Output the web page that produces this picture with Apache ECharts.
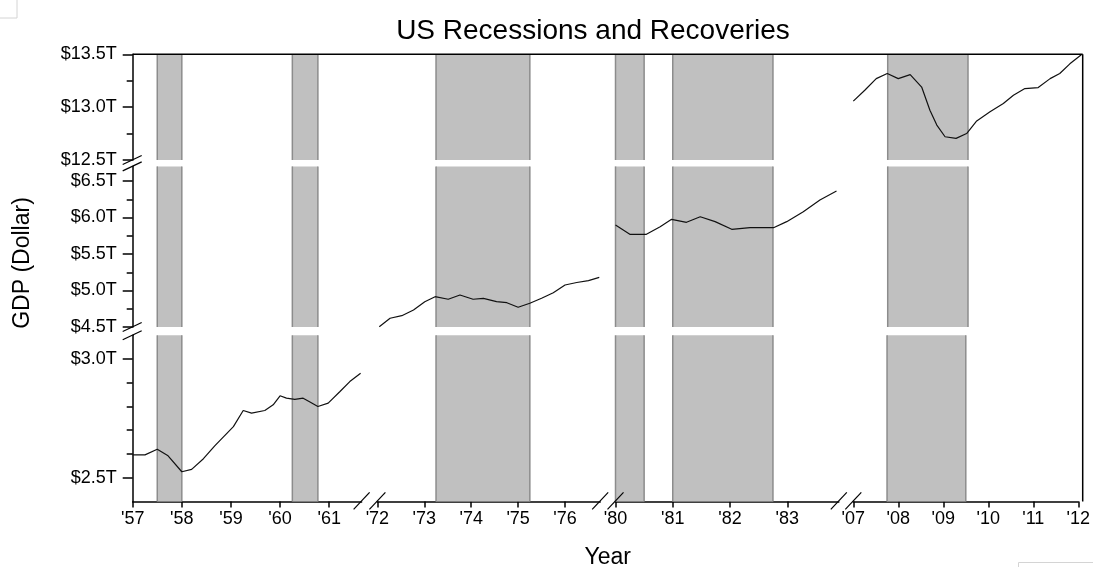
<!DOCTYPE html>
<html>
<head>
<meta charset="utf-8">
<script src="https://cdn.jsdelivr.net/npm/echarts@6/dist/echarts.min.js"></script>
<style>
html,body{margin:0;padding:0;background:#fff;}
#chart{width:1093px;height:567px;}
</style>
</head>
<body>
<div id="chart"></div>
<script>
// ---- Data ----
const years1 = [1957.0, 1957.25, 1957.5, 1957.72, 1958.0, 1958.2, 1958.44, 1958.67, 1959.05, 1959.25, 1959.42, 1959.69, 1959.86, 1960.0, 1960.13, 1960.3, 1960.47, 1960.6, 1960.77, 1960.98, 1961.22, 1961.42, 1961.64];
const gdp1   = [2.596, 2.596, 2.620, 2.592, 2.525, 2.535, 2.580, 2.634, 2.715, 2.783, 2.772, 2.783, 2.807, 2.845, 2.835, 2.830, 2.835, 2.820, 2.800, 2.814, 2.863, 2.905, 2.940];

const years2 = [1972.04, 1972.27, 1972.52, 1972.77, 1973.01, 1973.23, 1973.51, 1973.76, 1974.04, 1974.26, 1974.54, 1974.76, 1975.0, 1975.25, 1975.5, 1975.75, 1976.0, 1976.25, 1976.5, 1976.73];
const gdp2   = [4.504, 4.620, 4.655, 4.733, 4.847, 4.915, 4.880, 4.938, 4.880, 4.893, 4.847, 4.833, 4.770, 4.825, 4.893, 4.970, 5.075, 5.110, 5.135, 5.180];

const years3 = [1980.0, 1980.25, 1980.54, 1980.78, 1980.98, 1981.24, 1981.48, 1981.74, 1982.03, 1982.35, 1982.76, 1982.99, 1983.28, 1983.57, 1983.86];
const gdp3   = [5.897, 5.770, 5.770, 5.874, 5.975, 5.934, 6.011, 5.943, 5.838, 5.860, 5.860, 5.943, 6.080, 6.240, 6.363];

const years4 = [2007.0, 2007.25, 2007.5, 2007.74, 2007.98, 2008.24, 2008.49, 2008.67, 2008.82, 2009.0, 2009.24, 2009.47, 2009.69, 2009.98, 2010.27, 2010.49, 2010.74, 2011.03, 2011.29, 2011.5, 2011.72, 2011.97];
const gdp4   = [13.057, 13.160, 13.270, 13.318, 13.270, 13.308, 13.190, 12.970, 12.830, 12.720, 12.705, 12.750, 12.870, 12.956, 13.035, 13.113, 13.176, 13.185, 13.270, 13.318, 13.410, 13.495];

const recessionStart = [1957.5, 1960.25, 1973.25, 1980.0, 1981.0, 2007.75];
const recessionEnd   = [1958.0, 1960.77, 1975.25, 1980.5, 1982.75, 2009.5];

const xTicks1 = [1957, 1958, 1959, 1960, 1961];
const xTicks2 = [1972, 1973, 1974, 1975, 1976];
const xTicks3 = [1980, 1981, 1982, 1983];
const xTicks4 = [2007, 2008, 2009, 2010, 2011, 2012];

const yMajorTop = [12.5, 13.0, 13.5];
const yMajorMid = [4.5, 5.0, 5.5, 6.0, 6.5];
const yMajorBot = [2.5, 3.0];
const yMinorTop = [12.75, 13.25];
const yMinorMid = [4.75, 5.25, 5.75, 6.25];
const yMinorBot = [2.6, 2.7, 2.8, 2.9];

// ---- Layout (broken axes: 4 x-segments x 3 y-panels) ----
const COLS = [
  {min: 1957, max: 1961.66, left: 132.7, width: 228.9, ticks: xTicks1},
  {min: 1972, max: 1976.75, left: 377.4, width: 222.8, ticks: xTicks2},
  {min: 1980, max: 1983.9,  left: 615.5, width: 223.3, ticks: xTicks3},
  {min: 2007, max: 2012,    left: 853.3, width: 229.4, ticks: xTicks4}
];
const ROWS = [
  {min: 12.5, max: 13.5, top: 54.3,  height: 105.7, major: yMajorTop, minor: yMinorTop},
  {min: 4.5,  max: 6.7,  top: 166.4, height: 160.6, major: yMajorMid, minor: yMinorMid},
  {min: 2.4,  max: 3.1,  top: 335.3, height: 166.1, major: yMajorBot, minor: yMinorBot}
];
const SEGMENTS = [
  {xs: years1, ys: gdp1, col: 0, row: 2},
  {xs: years2, ys: gdp2, col: 1, row: 1},
  {xs: years3, ys: gdp3, col: 2, row: 1},
  {xs: years4, ys: gdp4, col: 3, row: 0}
];

const FONT = '"Liberation Sans", Arial, sans-serif';
const AXIS_W = 1.5;
const grids = [], xAxes = [], yAxes = [], series = [];

ROWS.forEach((R, r) => {
  COLS.forEach((C, c) => {
    const g = grids.length;
    grids.push({left: C.left, top: R.top, width: C.width, height: R.height, containLabel: false});
    const isBottom = r === ROWS.length - 1;
    const isLeft = c === 0;
    xAxes.push({
      type: 'value', gridIndex: g, min: C.min, max: C.max, position: 'bottom',
      axisLine: {show: isBottom, onZero: false, lineStyle: {color: '#000', width: AXIS_W}},
      axisTick: {show: isBottom, customValues: C.ticks, length: 6, inside: false, lineStyle: {color: '#000', width: AXIS_W}},
      axisLabel: {show: isBottom, customValues: C.ticks, margin: 9,
        formatter: v => "'" + String(Math.round(v)).slice(2),
        fontFamily: FONT, fontSize: 18, color: '#000'},
      splitLine: {show: false}
    });
    yAxes.push({
      type: 'value', gridIndex: g, min: R.min, max: R.max, position: 'left',
      axisLine: {show: isLeft, onZero: false, lineStyle: {color: '#000', width: AXIS_W}},
      axisTick: {show: isLeft, customValues: R.major, length: 10, lineStyle: {color: '#000', width: AXIS_W}},
      axisLabel: {show: isLeft, customValues: R.major, margin: 16,
        formatter: v => '$' + v.toFixed(1) + 'T',
        fontFamily: FONT, fontSize: 18, color: '#000'},
      splitLine: {show: false}
    });
    // recession shading inside this panel
    const rec = [];
    recessionStart.forEach((s, i) => {
      if (s < C.max && recessionEnd[i] > C.min) rec.push([s, recessionEnd[i]]);
    });
    if (rec.length) {
      series.push({
        type: 'custom', xAxisIndex: g, yAxisIndex: g, z: 1, silent: true,
        data: rec,
        encode: {x: [0, 1]},
        renderItem: (params, api) => {
          const cs = params.coordSys;
          const a = api.coord([api.value(0), R.min]);
          const b = api.coord([api.value(1), R.min]);
          const x0 = Math.max(a[0], cs.x), x1 = Math.min(b[0], cs.x + cs.width);
          return {
            type: 'group',
            children: [
              {type: 'rect', shape: {x: x0, y: cs.y, width: x1 - x0, height: cs.height},
               style: {fill: '#c0c0c0'}},
              {type: 'line', shape: {x1: x0, y1: cs.y, x2: x0, y2: cs.y + cs.height},
               style: {stroke: '#8c8c8c', lineWidth: 1.5}},
              {type: 'line', shape: {x1: x1, y1: cs.y, x2: x1, y2: cs.y + cs.height},
               style: {stroke: '#8c8c8c', lineWidth: 1.5}}
            ]
          };
        }
      });
    }
  });
});

// overlay grids for the minor ticks of the left axis
ROWS.forEach((R, r) => {
  const C = COLS[0];
  const g = grids.length;
  grids.push({left: C.left, top: R.top, width: C.width, height: R.height, containLabel: false});
  xAxes.push({type: 'value', gridIndex: g, min: C.min, max: C.max, show: false});
  yAxes.push({
    type: 'value', gridIndex: g, min: R.min, max: R.max, position: 'left',
    axisLine: {show: false},
    axisTick: {show: true, customValues: R.minor, length: 6, lineStyle: {color: '#000', width: AXIS_W}},
    axisLabel: {show: false},
    splitLine: {show: false}
  });
});

// GDP line segments
SEGMENTS.forEach(S => {
  const g = S.row * COLS.length + S.col;
  series.push({
    type: 'line', xAxisIndex: g, yAxisIndex: g, z: 5,
    data: S.xs.map((x, i) => [x, S.ys[i]]),
    showSymbol: false, symbol: 'none', silent: true,
    lineStyle: {color: '#111', width: 1.2}
  });
});

// decorations: frame, break marks, titles
const plotLeft = COLS[0].left;
const plotRight = COLS[3].left + COLS[3].width;
const plotTop = ROWS[0].top;
const plotBottom = ROWS[2].top + ROWS[2].height;
const graphic = [];
graphic.push({type: 'line', shape: {x1: plotLeft, y1: plotTop, x2: plotRight, y2: plotTop},
  style: {stroke: '#000', lineWidth: AXIS_W}, z: 10});
graphic.push({type: 'line', shape: {x1: plotRight, y1: plotTop, x2: plotRight, y2: plotBottom},
  style: {stroke: '#000', lineWidth: AXIS_W}, z: 10});
// x-axis break marks
const xBreaks = [];
COLS.forEach((C, c) => {
  if (c > 0) xBreaks.push(C.left);
  if (c < COLS.length - 1) xBreaks.push(C.left + C.width);
});
xBreaks.forEach(x => graphic.push({type: 'line',
  shape: {x1: x - 8, y1: plotBottom + 8, x2: x + 8, y2: plotBottom - 9},
  style: {stroke: '#000', lineWidth: 1.2}, z: 10}));
// y-axis break marks
const yBreaks = [];
ROWS.forEach((R, r) => {
  if (r > 0) yBreaks.push(R.top);
  if (r < ROWS.length - 1) yBreaks.push(R.top + R.height);
});
yBreaks.forEach(y => graphic.push({type: 'line',
  shape: {x1: plotLeft - 10, y1: y + 4.5, x2: plotLeft + 9, y2: y - 4.5},
  style: {stroke: '#000', lineWidth: 1.2}, z: 10}));
// texts
graphic.push({type: 'text', x: 593, y: 31, z: 10,
  style: {text: 'US Recessions and Recoveries', font: '28px ' + FONT, fill: '#000',
    textAlign: 'center', textVerticalAlign: 'middle', align: 'center', verticalAlign: 'middle'}});
graphic.push({type: 'text', x: (plotLeft + plotRight) / 2, y: 558, z: 10,
  style: {text: 'Year', font: '23px ' + FONT, fill: '#000',
    textAlign: 'center', textVerticalAlign: 'middle', align: 'center', verticalAlign: 'middle'}});
graphic.push({type: 'text', x: 23, y: 263, rotation: Math.PI / 2, z: 10,
  style: {text: 'GDP (Dollar)', font: '23px ' + FONT, fill: '#000',
    textAlign: 'center', textVerticalAlign: 'middle', align: 'center', verticalAlign: 'middle'}});
// faint frame artifacts seen in the reference corners
graphic.push({type: 'polyline', shape: {points: [[17, 0], [17, 18], [0, 18]]},
  style: {stroke: '#d4d4d4', lineWidth: 1, fill: null}, z: 10});
graphic.push({type: 'rect', shape: {x: 1018.5, y: 562.5, width: 80, height: 10},
  style: {stroke: '#d4d4d4', lineWidth: 1, fill: null}, z: 10});

const chart = echarts.init(document.getElementById('chart'), null, {renderer: 'canvas'});
chart.setOption({
  animation: false,
  backgroundColor: '#fff',
  grid: grids,
  xAxis: xAxes,
  yAxis: yAxes,
  series: series,
  graphic: graphic
});
</script>
</body>
</html>
